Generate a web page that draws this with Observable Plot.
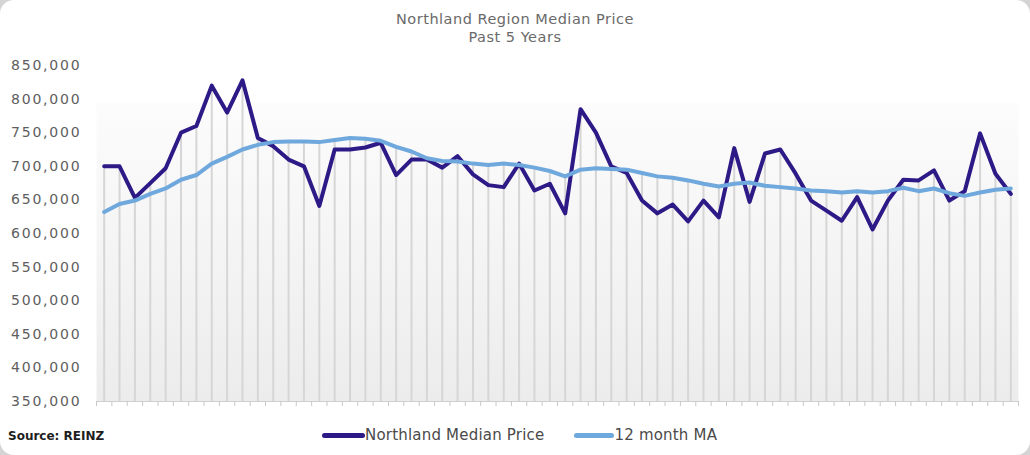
<!DOCTYPE html>
<html>
<head>
<meta charset="utf-8">
<script src="https://cdn.jsdelivr.net/npm/d3@7"></script>
<script src="https://cdn.jsdelivr.net/npm/@observablehq/plot@0.6"></script>
<style>
  html, body { margin: 0; padding: 0; background: #d4d4d4; }
  #card {
    position: relative; width: 1030px; height: 455px; background: #ffffff;
    border-radius: 14px; overflow: hidden; font-family: "DejaVu Sans", sans-serif;
  }
  #title {
    position: absolute; left: 0; top: 10px; width: 100%; text-align: center;
    color: #6a6a6a; font-size: 14.5px; letter-spacing: 0.5px; line-height: 18px;
  }
  #chart { position: absolute; left: 0; top: 50px; }
  #source {
    position: absolute; left: 8px; top: 429px; font-weight: bold; font-size: 12px; color: #1e1e1e;
  }
  #legend {
    position: absolute; left: 322px; top: 426px; display: flex; align-items: center;
    font-size: 15px; letter-spacing: 0.2px; color: #4a4a4a; white-space: nowrap;
  }
  .sw { display: inline-block; width: 43px; height: 5px; border-radius: 3px; }
  .item { display: flex; align-items: center; }
</style>
</head>
<body>
<div id="card">
  <div id="title">Northland Region Median Price<br>Past 5 Years</div>
  <div id="chart"></div>
  <div id="source">Source: REINZ</div>
  <div id="legend">
    <div class="item"><span class="sw" style="background:#2e1a87"></span><span>Northland Median Price</span></div>
    <div class="item" style="margin-left:30px"><span class="sw" style="background:#6fa8dc; width:40px"></span><span>12 month MA</span></div>
  </div>
</div>
<script>
// Monthly median sale price, Northland region, last 60 months (NZD)
const price = [
  700000, 700000, 653000, 675000, 697000, 750000, 760000, 820000, 780000, 828000,
  742000, 730000, 710000, 700000, 641000, 725000, 725000, 728000, 735000, 687000,
  710000, 710000, 698000, 715000, 688000, 672000, 669000, 704000, 664000, 674000,
  630000, 785000, 750000, 700000, 690000, 649000, 630000, 643000, 618000, 649000,
  624000, 727000, 647000, 719000, 725000, 689000, 649000, 634000, 619000, 654000,
  606000, 649000, 680000, 679000, 694000, 649000, 663000, 749000, 689000, 659000
];

// 12 month moving average of the median price
const ma = [
  632000, 644000, 649000, 659000, 667000, 680000, 687000, 704000, 714000, 725000,
  732000, 736000, 737000, 737000, 736000, 739000, 742000, 741000, 738000, 729000,
  722000, 712000, 708000, 707000, 704000, 702000, 704000, 702000, 698000, 693000,
  685000, 695000, 697000, 696000, 695000, 690000, 685000, 683000, 679000, 674000,
  670000, 674000, 676000, 671000, 669000, 667000, 664000, 663000, 661000, 663000,
  661000, 663000, 668000, 663000, 667000, 660000, 656000, 661000, 665000, 667000
];

// Value axis ticks
const yTicks = [350000, 400000, 450000, 500000, 550000, 600000, 650000, 700000, 750000, 800000, 850000];

const rows = price.map((p, i) => ({i, price: p, ma: ma[i], top: Math.max(p, ma[i])}));
// Category boundaries, where the small axis ticks sit
const bounds = d3.range(rows.length + 1).map(k => k - 0.5);
const yMin = yTicks[0], yMax = yTicks[yTicks.length - 1];

// Vertical gradient used behind the plot area
const gradientDefs = () => {
  const defs = d3.create("svg:defs");
  const g = defs.append("linearGradient").attr("id", "plotBg")
    .attr("x1", 0).attr("y1", 0).attr("x2", 0).attr("y2", 1);
  g.append("stop").attr("offset", "0").attr("stop-color", "#ffffff");
  g.append("stop").attr("offset", "0.105").attr("stop-color", "#ffffff");
  g.append("stop").attr("offset", "0.115").attr("stop-color", "#fcfcfc");
  g.append("stop").attr("offset", "1").attr("stop-color", "#ececec");
  return defs.node();
};

const chart = Plot.plot({
  width: 1030,
  height: 365,
  marginLeft: 96,
  marginRight: 12,
  marginTop: 15,
  marginBottom: 14,
  style: {
    fontFamily: "DejaVu Sans, sans-serif",
    fontSize: "14px",
    color: "#5e5e5e",
    letterSpacing: "1.8px",
    background: "transparent",
    overflow: "visible"
  },
  x: {type: "linear", domain: [-0.5, rows.length - 0.5], axis: null},
  y: {domain: [yMin, yMax], axis: null},
  marks: [
    gradientDefs,
    Plot.frame({fill: "url(#plotBg)", stroke: "none"}),
    Plot.ruleX(rows, {x: "i", y1: yMin, y2: "top", stroke: "#d6d6d6", strokeWidth: 2}),
    Plot.ruleY([yMin], {stroke: "#cfcfcf", strokeWidth: 1}),
    Plot.axisX({ticks: bounds, tickSize: 5, tickFormat: () => "", label: null, stroke: "#c8c8c8"}),
    Plot.axisY({ticks: yTicks, tickSize: 0, tickPadding: 15, tickFormat: d3.format(","), label: null}),
    Plot.lineY(rows, {x: "i", y: "price", stroke: "#2e1a87", strokeWidth: 4, strokeLinejoin: "round", strokeLinecap: "round"}),
    Plot.lineY(rows, {x: "i", y: "ma", stroke: "#6fa8dc", strokeWidth: 4, strokeLinejoin: "round", strokeLinecap: "round"})
  ]
});

document.getElementById("chart").appendChild(chart);
</script>
</body>
</html>
